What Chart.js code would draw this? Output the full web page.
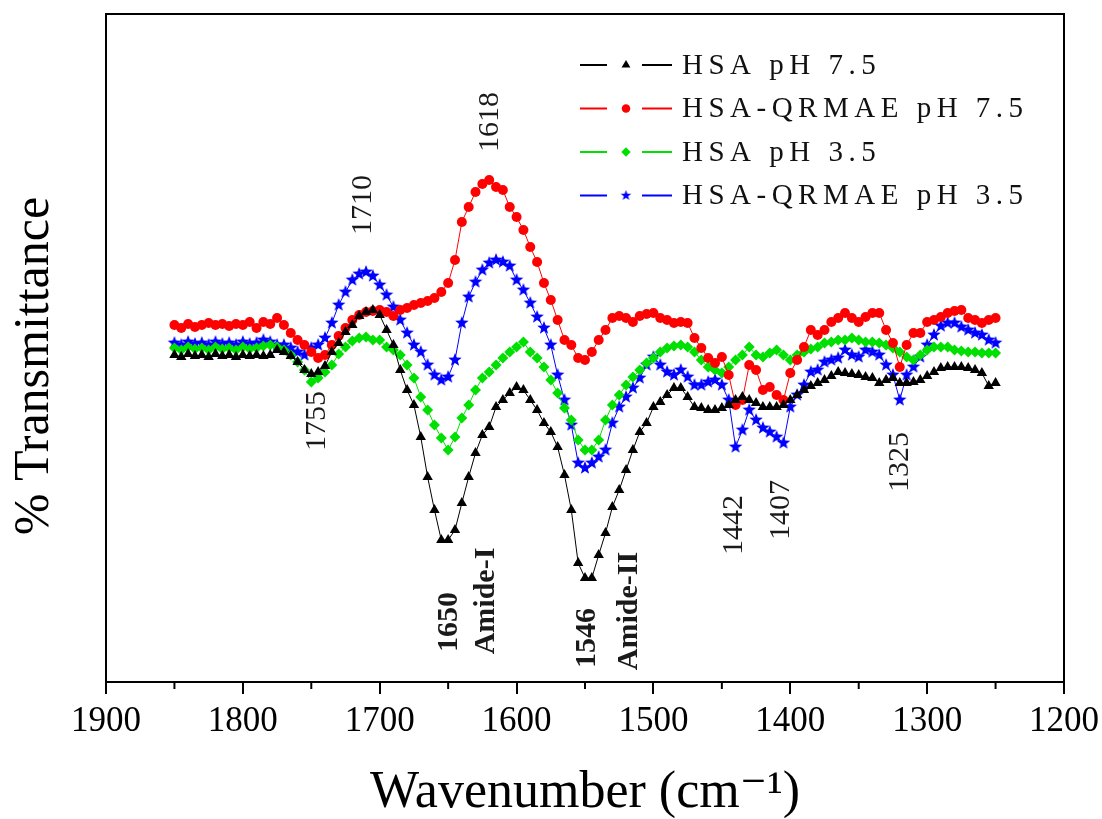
<!DOCTYPE html>
<html>
<head>
<meta charset="utf-8">
<title>FTIR spectra HSA</title>
<script src="https://cdn.jsdelivr.net/npm/chart.js@4.4.1/dist/chart.umd.min.js"></script>
<style>
  html, body { margin: 0; padding: 0; background: #fff; }
  #wrap { width: 1102px; height: 819px; }
</style>
</head>
<body>
<div id="wrap"><canvas id="ftirChart" width="1102" height="819"></canvas></div>
<script>
const wavenumbers = [
  1850, 1845, 1840, 1835, 1830, 1825, 1820, 1815, 1810, 1805,
  1800, 1795, 1790, 1785, 1780, 1775, 1770, 1765, 1760, 1755,
  1750, 1745, 1740, 1735, 1730, 1725, 1720, 1715, 1710, 1705,
  1700, 1695, 1690, 1685, 1680, 1675, 1670, 1665, 1660, 1655,
  1650, 1645, 1640, 1635, 1630, 1625, 1620, 1615, 1610, 1605,
  1600, 1595, 1590, 1585, 1580, 1575, 1570, 1565, 1560, 1555,
  1550, 1545, 1540, 1535, 1530, 1525, 1520, 1515, 1510, 1505,
  1500, 1495, 1490, 1485, 1480, 1475, 1470, 1465, 1460, 1455,
  1450, 1445, 1440, 1435, 1430, 1425, 1420, 1415, 1410, 1405,
  1400, 1395, 1390, 1385, 1380, 1375, 1370, 1365, 1360, 1355,
  1350, 1345, 1340, 1335, 1330, 1325, 1320, 1315, 1310, 1305,
  1300, 1295, 1290, 1285, 1280, 1275, 1270, 1265, 1260, 1255,
  1250
];

// % transmittance (arbitrary offset units), one value per wavenumber
const hsaPh75 = [
  34.5, 34.3, 34.6, 34.4, 34.5, 34.3, 34.6, 34.4, 34.5, 34.3,
  34.5, 34.4, 34.5, 34.4, 34.5, 35.0, 34.8, 34.4, 33.8, 33.0,
  32.6, 32.8, 33.4, 34.8, 35.7, 36.8, 37.5, 38.4, 38.8, 39.0,
  38.5, 37.0, 35.5, 33.0, 31.0, 29.5, 26.3, 22.3, 19.0, 16.0,
  16.0, 17.0, 19.7, 22.3, 24.7, 26.5, 27.3, 29.3, 30.0, 30.7,
  31.3, 31.0, 30.0, 29.0, 27.7, 26.8, 25.3, 22.5, 19.0, 13.7,
  12.2, 12.2, 14.5, 16.7, 19.3, 21.0, 23.0, 25.0, 26.8, 27.7,
  29.3, 29.8, 30.5, 31.2, 31.2, 30.3, 29.3, 29.2, 29.0, 29.0,
  29.2, 29.5, 30.0, 30.3, 30.0, 29.7, 29.3, 29.3, 29.3, 29.5,
  30.0, 30.5, 31.0, 31.4, 31.7, 32.0, 32.4, 32.8, 32.7, 32.6,
  32.5, 32.3, 32.2, 31.7, 32.0, 32.2, 31.7, 31.7, 31.8, 32.0,
  32.4, 32.8, 33.2, 33.3, 33.3, 33.3, 33.2, 33.0, 32.7, 31.4,
  31.7
];
const qrmaePh75 = [
  37.5, 37.2, 37.6, 37.3, 37.5, 37.7, 37.5, 37.6, 37.4, 37.6,
  37.5, 37.8, 37.2, 37.8, 37.6, 38.2, 37.5, 36.7, 36.0, 35.5,
  34.8, 34.2, 34.5, 35.5, 36.4, 37.2, 38.0, 38.5, 38.8, 38.9,
  39.0, 38.8, 38.4, 39.0, 39.2, 39.5, 39.7, 39.9, 40.2, 40.8,
  41.7, 44.0, 47.8, 49.3, 50.8, 51.6, 52.0, 51.3, 51.0, 49.3,
  48.3, 47.0, 45.3, 43.8, 41.7, 40.0, 38.0, 36.0, 35.5, 34.2,
  34.0, 34.8, 36.0, 37.0, 38.2, 38.4, 38.2, 37.8, 38.4, 38.6,
  38.7, 38.2, 38.0, 37.7, 37.8, 37.7, 36.2, 35.2, 34.2, 33.7,
  34.3, 32.5, 29.5, 30.0, 33.5, 33.0, 31.0, 31.3, 30.5, 30.0,
  32.7, 34.0, 35.3, 37.0, 36.5, 37.0, 37.8, 38.2, 38.7, 38.2,
  37.8, 38.3, 38.7, 38.7, 37.0, 35.7, 33.3, 35.5, 36.7, 36.7,
  37.8, 38.0, 38.3, 38.7, 38.9, 39.0, 38.2, 38.0, 37.7, 38.0,
  38.2
];
const hsaPh35 = [
  35.2, 35.0, 35.3, 35.1, 35.2, 35.0, 35.3, 35.1, 35.2, 35.0,
  35.3, 35.1, 35.2, 35.4, 35.5, 35.3, 35.0, 34.5, 33.8, 33.0,
  31.8, 32.2, 32.8, 33.5, 34.6, 35.3, 35.9, 36.2, 36.3, 36.0,
  36.0, 35.3, 35.0, 34.5, 33.5, 32.2, 30.3, 29.0, 27.5, 26.2,
  25.0, 26.3, 28.2, 29.5, 31.0, 32.2, 32.8, 33.5, 34.2, 34.8,
  35.3, 35.8, 34.8, 34.2, 33.3, 32.0, 30.7, 29.2, 28.0, 26.0,
  25.0, 25.0, 26.0, 28.0, 29.5, 30.5, 31.5, 32.3, 33.0, 33.7,
  34.2, 34.8, 35.2, 35.4, 35.5, 35.3, 34.8, 34.0, 33.3, 33.0,
  32.7, 33.3, 34.0, 34.5, 35.3, 34.5, 34.3, 34.7, 35.0, 34.5,
  34.0, 34.5, 34.8, 35.1, 35.3, 35.7, 35.8, 36.0, 36.0, 36.2,
  36.0, 35.8, 35.8, 35.7, 35.5, 35.2, 34.8, 34.3, 34.0, 34.5,
  35.0, 35.3, 35.3, 35.3, 35.0, 34.9, 34.8, 34.8, 34.7, 34.7,
  34.7
];
const qrmaePh35 = [
  35.7, 35.5, 35.8, 35.6, 35.7, 35.5, 35.8, 35.6, 35.7, 35.5,
  35.8, 35.6, 35.7, 36.0, 35.8, 35.5, 35.5, 35.2, 34.8, 34.5,
  35.2, 35.5, 36.2, 37.7, 39.5, 40.8, 42.0, 42.6, 42.8, 42.4,
  41.5, 40.5, 39.3, 38.0, 36.7, 35.5, 34.8, 33.5, 32.5, 32.0,
  32.3, 34.0, 37.7, 40.3, 41.8, 43.0, 43.7, 44.0, 43.8, 43.4,
  42.0, 41.0, 39.7, 38.3, 37.2, 35.5, 32.5, 30.0, 27.5, 23.7,
  23.2, 23.7, 24.3, 25.0, 27.7, 29.3, 30.3, 31.2, 32.2, 33.5,
  34.3, 33.5, 32.8, 32.5, 33.0, 32.3, 31.5, 31.5, 31.8, 32.0,
  31.5, 30.0, 25.3, 27.0, 29.0, 28.0, 27.2, 26.8, 26.3, 25.7,
  29.3, 30.5, 31.5, 32.8, 33.0, 33.8, 34.0, 34.2, 35.0, 34.5,
  34.3, 35.0, 34.8, 34.5, 33.5, 32.5, 30.0, 32.5, 33.3, 34.3,
  35.5, 36.5, 37.4, 37.7, 37.7, 37.3, 37.0, 36.7, 36.5, 36.0,
  35.7
];

const seriesNames = ['HSA pH 7.5', 'HSA-QRMAE pH 7.5', 'HSA pH 3.5', 'HSA-QRMAE pH 3.5'];
const seriesValues = [hsaPh75, qrmaePh75, hsaPh35, qrmaePh35];

// peak annotations: text, wavenumber, transmittance at text centre
const peakLabels = ['1618', '1710', '1755', '1650', 'Amide-I', '1546', 'Amide-II', '1442', '1407', '1325'];
const peakX = [1619, 1712, 1746, 1649, 1622, 1548, 1518, 1441, 1407, 1320];
const peakY = [57.8, 49.5, 27.9, 7.8, 9.9, 6.2, 8.9, 17.5, 19.0, 23.8];

const serif = "'Liberation Serif', 'DejaVu Serif', serif";
const colors = ['#000000', '#ff0000', '#00e000', '#0000ff'];

function makeStar(color, r) {
  const c = document.createElement('canvas');
  const s = Math.ceil(r * 2) + 2;
  c.width = s;
  c.height = s;
  const g = c.getContext('2d');
  g.fillStyle = color;
  g.beginPath();
  for (let i = 0; i < 10; i++) {
    const rr = i % 2 === 0 ? r : r * 0.42;
    const a = -Math.PI / 2 + i * Math.PI / 5;
    const px = s / 2 + rr * Math.cos(a);
    const py = s / 2 + rr * Math.sin(a);
    if (i === 0) g.moveTo(px, py); else g.lineTo(px, py);
  }
  g.closePath();
  g.fill();
  return c;
}

const starBig = makeStar(colors[3], 7);
const starSmall = makeStar(colors[3], 5.5);
const markers = ['triangle', 'circle', 'rectRot', starBig];
const legendMarkers = ['triangle', 'circle', 'rectRot', starSmall];
const markerSize = [6, 5, 5.5, 6.5];

function spacedText(ctx, text, x, y, gap) {
  for (const ch of text) {
    ctx.fillText(ch, x, y);
    x += ctx.measureText(ch).width + gap;
  }
}

const decorPlugin = {
  id: 'decor',
  afterDraw(chart) {
    const { ctx, chartArea: a, scales: { x, y } } = chart;
    ctx.save();

    // box round the plot
    ctx.strokeStyle = '#000';
    ctx.lineWidth = 2;
    ctx.strokeRect(a.left, a.top, a.right - a.left, a.bottom - a.top);

    // short minor ticks at the 50s
    x.ticks.forEach(t => {
      if (t.value % 100 !== 0) {
        const px = x.getPixelForValue(t.value);
        ctx.beginPath();
        ctx.moveTo(px, a.bottom);
        ctx.lineTo(px, a.bottom + 7);
        ctx.stroke();
      }
    });

    // y axis title, sits a little below the plot middle
    ctx.save();
    ctx.translate(35, (a.top + a.bottom) / 2 + 18);
    ctx.rotate(-Math.PI / 2);
    ctx.fillStyle = '#000';
    ctx.textAlign = 'center';
    ctx.textBaseline = 'middle';
    ctx.font = '50px ' + serif;
    ctx.fillText('% Transmittance', 0, 0);
    ctx.restore();

    // peak labels, rotated
    const bold = new Set(['1650', 'Amide-I', '1546', 'Amide-II']);
    ctx.fillStyle = '#1a1a1a';
    ctx.textAlign = 'center';
    ctx.textBaseline = 'middle';
    peakLabels.forEach((txt, i) => {
      ctx.save();
      ctx.translate(x.getPixelForValue(peakX[i]), y.getPixelForValue(peakY[i]));
      ctx.rotate(-Math.PI / 2);
      ctx.font = (bold.has(txt) ? 'bold ' : '') + '30px ' + serif;
      ctx.fillText(txt, 0, 0);
      ctx.restore();
    });

    // legend
    ctx.textAlign = 'left';
    ctx.font = '29px ' + serif;
    seriesNames.forEach((name, i) => {
      const ly = 65 + i * 43.5;
      ctx.strokeStyle = colors[i];
      ctx.fillStyle = colors[i];
      ctx.lineWidth = 2;
      ctx.beginPath();
      ctx.moveTo(580, ly); ctx.lineTo(607, ly);
      ctx.moveTo(642, ly); ctx.lineTo(672, ly);
      ctx.stroke();
      Chart.helpers.drawPoint(ctx, {
        pointStyle: legendMarkers[i], radius: markerSize[i] * 0.85, rotation: 0, borderWidth: 0
      }, 626, ly);
      ctx.fillStyle = '#111';
      spacedText(ctx, name, 682, ly + 1, 5.5);
    });
    ctx.restore();
  }
};

new Chart(document.getElementById('ftirChart'), {
  type: 'line',
  data: {
    datasets: seriesNames.map((name, i) => ({
      label: name,
      data: wavenumbers.map((w, k) => ({ x: w, y: seriesValues[i][k] })),
      borderColor: colors[i],
      backgroundColor: colors[i],
      borderWidth: 1,
      pointStyle: markers[i],
      pointRadius: markerSize[i],
      pointBorderWidth: 0,
      pointBackgroundColor: colors[i],
      tension: 0
    }))
  },
  options: {
    responsive: false,
    animation: false,
    layout: { padding: { top: 14, right: 38, left: 0, bottom: 0 } },
    plugins: { legend: { display: false }, tooltip: { enabled: false } },
    scales: {
      x: {
        type: 'linear',
        reverse: true,
        min: 1200,
        max: 1900,
        afterFit: s => { s.height = 137; s.paddingLeft = 0; s.paddingRight = 0; },
        ticks: {
          stepSize: 50, autoSkip: false, maxRotation: 0, padding: 7, color: '#000',
          font: { family: serif, size: 35 },
          callback: v => (v % 100 === 0 ? String(v) : '')
        },
        grid: {
          display: true, drawOnChartArea: false, drawTicks: true, tickLength: 12, lineWidth: 2,
          color: c => (c.tick && c.tick.value % 100 === 0 ? '#000' : 'rgba(0,0,0,0)')
        },
        border: { display: true, color: '#000', width: 2 },
        title: {
          display: true, text: 'Wavenumber (cm⁻¹)', color: '#000',
          font: { family: serif, size: 52, lineHeight: 1 }, padding: { top: 0, bottom: 0 }
        }
      },
      y: {
        min: 1.8,
        max: 68.6,
        afterFit: s => { s.width = 106; },
        ticks: { display: false },
        grid: { display: false },
        border: { display: true, color: '#000', width: 2 }
      }
    }
  },
  plugins: [decorPlugin]
});
</script>
</body>
</html>
